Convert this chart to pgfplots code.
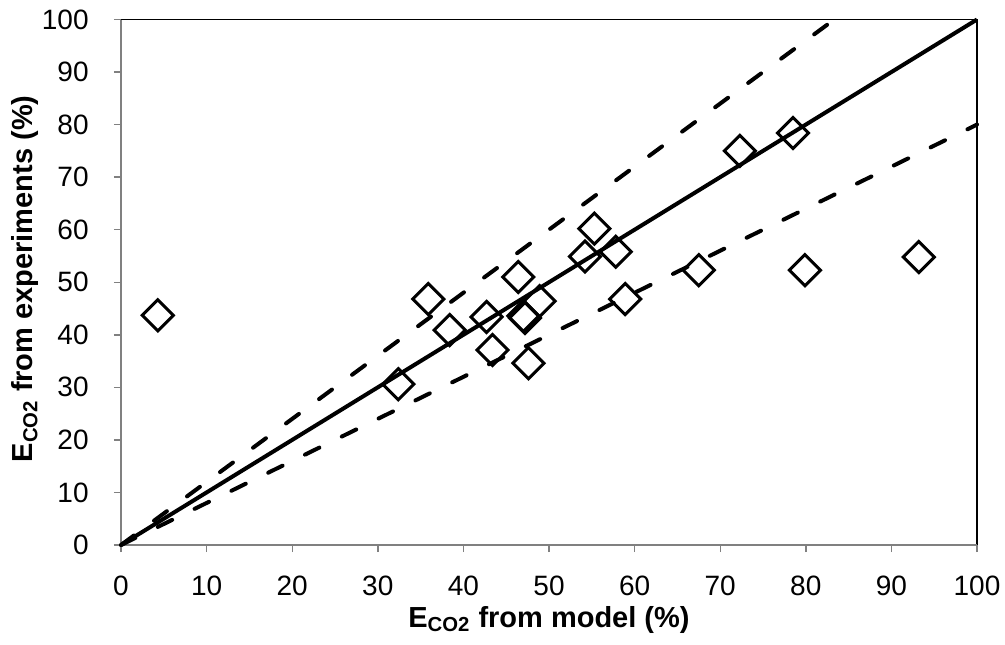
\documentclass[border=0pt]{standalone}
\usepackage{fontspec}
\setmainfont{Liberation Sans}
\usepackage{pgfplots}
\pgfplotsset{compat=1.18}
\begin{document}
\begin{tikzpicture}
\begin{axis}[
  scale only axis,
  width=428pt, height=262.75pt,
  xmin=0, xmax=100, ymin=0, ymax=100,
  xtick={0,10,...,100}, ytick={0,10,...,100},
  tick align=outside, tick pos=left,
  major tick length=3.5pt,
  tick style={gray, line width=0.7pt},
  axis line style={draw=none},
  ticklabel style={font=\fontsize{14}{16}\selectfont, inner sep=0pt},
  xticklabel style={anchor=north, yshift=-12pt},
  yticklabel style={anchor=east, xshift=-12.5pt},
  /pgf/number format/assume math mode=true,
  label style={font=\bfseries\fontsize{14.5}{17}\selectfont, inner sep=0pt},
  xlabel={E\textsubscript{CO2} from model (\%)},
  ylabel={E\textsubscript{CO2} from experiments (\%)},
  xlabel style={at={(rel axis cs:0.5,0)}, anchor=base, yshift=-41pt},
  ylabel style={at={(rel axis cs:0,0.5)}, anchor=base, yshift=44pt, xshift=1.75pt},
  clip=false,
]
\draw[black, line width=0.8pt] (rel axis cs:0,1) -- (rel axis cs:1,1) -- (rel axis cs:1,0);
\draw[gray, line width=0.8pt] (rel axis cs:0,1) -- (rel axis cs:0,0) -- (rel axis cs:1,0);

% 1:1 line and +/-20% bounds
\addplot[black, line width=2pt] coordinates {(0,0) (100,100)};
\addplot[black, line width=2pt, line cap=round, dash pattern=on 8pt off 12.5pt] coordinates {(0,0) (83.33,100)};
\addplot[black, line width=2pt, line cap=round, dash pattern=on 8pt off 12.5pt] coordinates {(0,0) (100,80)};

\addplot[only marks, mark=square, mark size=5.5pt,
  mark options={rotate=45, line width=1.5pt, black}] coordinates {
  (4.3,43.7)
  (32.4,30.6)
  (35.9,46.8)
  (38.4,40.9)
  (42.7,43.4)
  (43.4,37.1)
  (46.4,51.0)
  (47.0,43.6)
  (47.2,43.2)
  (48.9,46.4)
  (47.6,34.6)
  (54.2,54.9)
  (55.3,60.2)
  (57.8,55.8)
  (58.9,46.8)
  (67.5,52.3)
  (72.3,75.0)
  (78.5,78.4)
  (79.9,52.3)
  (93.2,54.8)
};
\end{axis}
\pgfresetboundingbox
\path (current axis.south west) ++(-60.5pt,-49.5pt) rectangle ++(502.5pt,322pt);
\end{tikzpicture}
\end{document}
